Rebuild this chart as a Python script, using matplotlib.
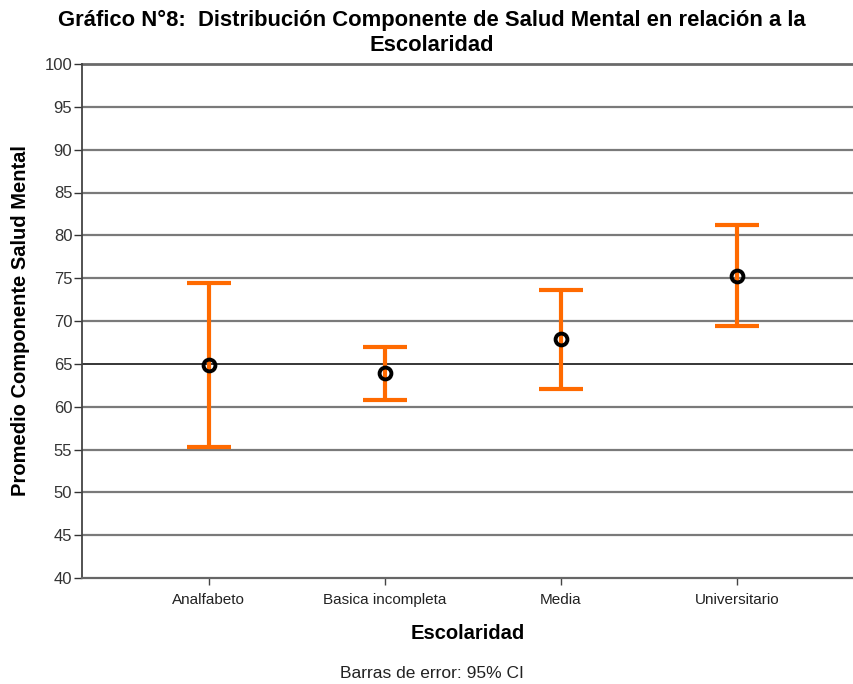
import matplotlib
matplotlib.use("Agg")
import matplotlib.pyplot as plt
import numpy as np

plt.rcParams['font.family'] = ['Liberation Sans', 'DejaVu Sans']

categories = ["Analfabeto", "Basica incompleta", "Media", "Universitario"]
means = [64.9, 63.9, 67.9, 75.3]
ci_low = [55.3, 60.8, 62.1, 69.4]
ci_high = [74.4, 67.0, 73.6, 81.2]
yticks = list(range(40, 101, 5))

fig = plt.figure(figsize=(8.54, 6.84), dpi=100)
ax = fig.add_axes([82/854, 1 - 578/684, (854-82)/854, (578-64)/684])

x = np.arange(len(categories))
means_a = np.array(means)
lo = means_a - np.array(ci_low)
hi = np.array(ci_high) - means_a

for yv in yticks:
    if yv in (40, 100):
        continue
    col = 'black' if yv == 65 else '#7a7a7a'
    lw = 1.1 if yv == 65 else 1.6
    ax.axhline(yv, color=col, lw=lw, zorder=1)
ax.axhline(100, color='#6a6a6a', lw=2.0, zorder=1, clip_on=False)

ax.errorbar(x, means, yerr=[lo, hi], fmt='none', ecolor='#FF6A00',
            elinewidth=3.0, capsize=16, capthick=3.0, zorder=3)
ax.plot(x, means, 'o', mfc='none', mec='black', mew=2.8, ms=8.5, zorder=4)

ax.set_xlim(-0.72, 3.665)
ax.set_ylim(40, 100)
ax.set_yticks(yticks)
ax.set_xticks(x)
ax.set_xticklabels(categories, fontsize=11)
ax.tick_params(axis='y', labelsize=12, direction='out', length=6, width=1, colors='#333333', labelcolor='#333333', pad=1)
ax.tick_params(axis='x', direction='out', length=5, width=1, colors='#444444', labelcolor='#222222', pad=6)

for s in ['top', 'right']:
    ax.spines[s].set_visible(False)
ax.spines['left'].set_color('#444444')
ax.spines['left'].set_linewidth(1.3)
ax.spines['bottom'].set_color('#666666')
ax.spines['bottom'].set_linewidth(1.6)

ax.set_ylabel("Promedio Componente Salud Mental", fontsize=14.5, fontweight='bold')
ax.yaxis.set_label_coords(-52/772, 0.5)
ax.set_xlabel("Escolaridad", fontsize=14.5, fontweight='bold', labelpad=12)

fig.text(432/854, 1 - 33/684, "Gráfico N°8:  Distribución Componente de Salud Mental en relación a la\nEscolaridad",
         ha='center', va='center', fontsize=15.8, fontweight='bold', linespacing=1.2)
fig.text(432/854, 1 - 673/684, "Barras de error: 95% CI", ha='center', va='center', fontsize=12.5, color='#222222')

fig.savefig("out.png", dpi=100)
